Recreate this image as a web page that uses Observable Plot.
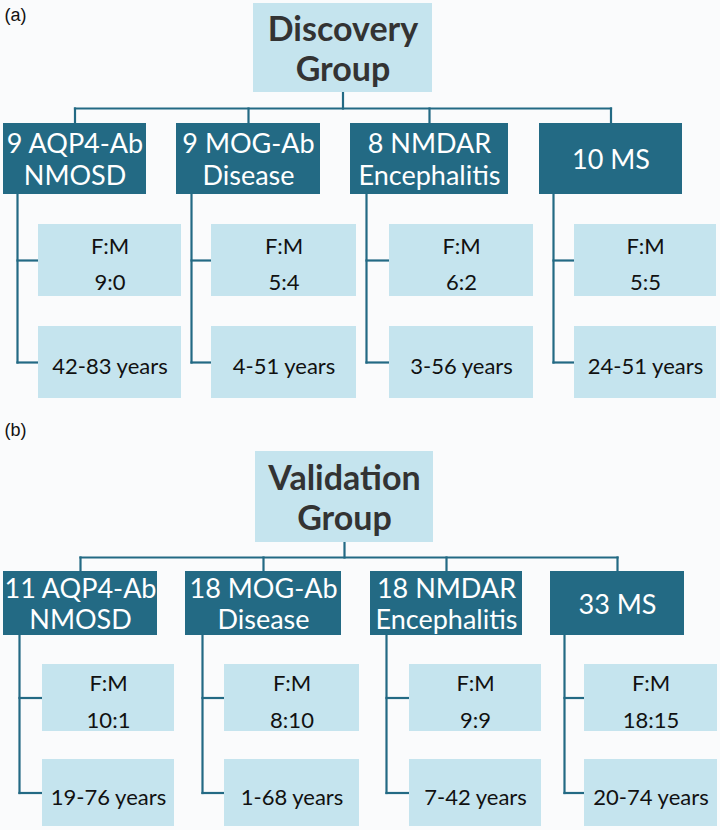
<!DOCTYPE html>
<html>
<head>
<meta charset="utf-8">
<script src="https://cdn.jsdelivr.net/npm/d3@7"></script>
<script src="https://cdn.jsdelivr.net/npm/@observablehq/plot@0.6"></script>
<style>
  html, body { margin: 0; padding: 0; background: #fafbfc; }
</style>
</head>
<body>
<div id="chart"></div>
<script>
// ---------- data ----------
const panelLabels = ["(a)", "(b)"];
const groupNames = ["Discovery\nGroup", "Validation\nGroup"];
const diseaseNames = ["AQP4-Ab\nNMOSD", "MOG-Ab\nDisease", "NMDAR\nEncephalitis", "MS"];
const discoveryCounts = [9, 9, 8, 10];
const validationCounts = [11, 18, 18, 33];
const discoveryFM = ["9:0", "5:4", "6:2", "5:5"];
const validationFM = ["10:1", "8:10", "9:9", "18:15"];
const discoveryAges = ["42-83", "4-51", "3-56", "24-51"];
const validationAges = ["19-76", "1-68", "7-42", "20-74"];

// ---------- layout (diagram geometry, in scale units) ----------
const layout = [
  {
    label: [4, 15],
    title: [253, 432, 3, 92],
    bus: 108,
    l2y: [123, 194],
    l2x: [[3, 146], [176, 320], [350, 508], [539, 682]],
    trunk: [17, 191, 366, 553],
    subx: [[38, 181], [211, 356], [389, 533], [574, 716]],
    fmy: [224, 296],
    agey: [326, 398]
  },
  {
    label: [4, 430],
    title: [255, 433, 451, 542],
    bus: 557,
    l2y: [571, 635],
    l2x: [[3, 157], [185, 341], [370, 522], [550, 684]],
    trunk: [19, 202, 386, 564],
    subx: [[42, 174], [224, 359], [409, 541], [584, 717]],
    fmy: [664, 731],
    agey: [759, 826]
  }
];

const counts = [discoveryCounts, validationCounts];
const fms = [discoveryFM, validationFM];
const ages = [discoveryAges, validationAges];

const dark = "#236a84";
const light = "#c5e4ee";

// build tables
const titleBoxes = [], l2Boxes = [], subBoxes = [], links = [], labels = [];
layout.forEach((L, p) => {
  labels.push({x: L.label[0], y: L.label[1], text: panelLabels[p]});
  const [tx1, tx2, ty1, ty2] = L.title;
  const tcx = (tx1 + tx2) / 2;
  titleBoxes.push({x1: tx1, x2: tx2, y1: ty1, y2: ty2, text: groupNames[p]});
  const centers = L.l2x.map(([a, b]) => (a + b) / 2);
  // stem + bus
  links.push({x1: tcx, y1: ty2, x2: tcx, y2: L.bus});
  links.push({x1: centers[0], y1: L.bus, x2: centers[centers.length - 1], y2: L.bus});
  diseaseNames.forEach((name, i) => {
    const [a, b] = L.l2x[i];
    links.push({x1: centers[i], y1: L.bus, x2: centers[i], y2: L.l2y[0]});
    l2Boxes.push({x1: a, x2: b, y1: L.l2y[0], y2: L.l2y[1], text: `${counts[p][i]} ${name}`});
    const [s1, s2] = L.subx[i];
    const fmc = (L.fmy[0] + L.fmy[1]) / 2;
    const agc = (L.agey[0] + L.agey[1]) / 2;
    subBoxes.push({x1: s1, x2: s2, y1: L.fmy[0], y2: L.fmy[1], text: `F:M\n${fms[p][i]}`, lh: 1.6});
    subBoxes.push({x1: s1, x2: s2, y1: L.agey[0], y2: L.agey[1], text: `${ages[p][i]} years`, lh: 1.6});
    const t = L.trunk[i];
    links.push({x1: t, y1: L.l2y[1], x2: t, y2: agc});
    links.push({x1: t, y1: fmc, x2: s1, y2: fmc});
    links.push({x1: t, y1: agc, x2: s1, y2: agc});
  });
});

const cx = d => (d.x1 + d.x2) / 2;
const cy = d => (d.y1 + d.y2) / 2;

const chart = Plot.plot({
  width: 720,
  height: 830,
  margin: 0,
  x: {domain: [0, 720], range: [0, 720], axis: null},
  y: {domain: [0, 830], range: [0, 830], axis: null},
  style: {background: "#fafbfc"},
  marks: [
    Plot.link(links, {x1: "x1", y1: "y1", x2: "x2", y2: "y2", stroke: dark, strokeWidth: 2.2, strokeLinecap: "square"}),
    Plot.rect(titleBoxes, {x1: "x1", x2: "x2", y1: "y1", y2: "y2", fill: light}),
    Plot.rect(l2Boxes, {x1: "x1", x2: "x2", y1: "y1", y2: "y2", fill: dark}),
    Plot.rect(subBoxes, {x1: "x1", x2: "x2", y1: "y1", y2: "y2", fill: light}),
    Plot.text(titleBoxes, {x: cx, y: cy, text: "text", fill: "#333333", fontSize: 34, fontWeight: "bold", fontFamily: "Lato", lineHeight: 1.18, lineAnchor: "middle"}),
    Plot.text(l2Boxes, {x: cx, y: cy, text: "text", fill: "white", fontSize: 27, fontFamily: "Lato", lineHeight: 1.16, lineAnchor: "middle"}),
    Plot.text(subBoxes, {x: cx, y: cy, text: "text", fill: "#111111", fontSize: 22, fontFamily: "Lato", lineHeight: 1.65, lineAnchor: "middle"}),
    Plot.text(labels, {x: "x", y: "y", text: "text", textAnchor: "start", fill: "#111111", fontSize: 18, fontFamily: "Liberation Sans", lineAnchor: "middle"})
  ]
});
document.getElementById("chart").appendChild(chart);
</script>
</body>
</html>
